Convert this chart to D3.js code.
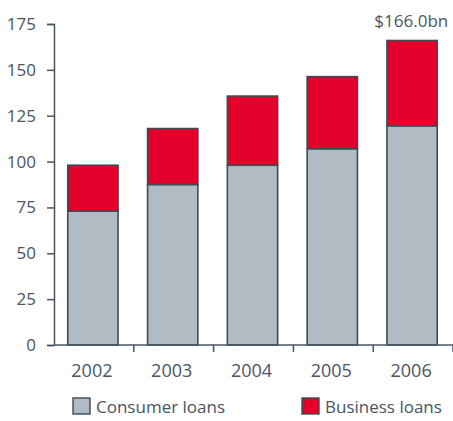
<!DOCTYPE html>
<html>
<head>
<meta charset="utf-8">
<script src="https://cdn.jsdelivr.net/npm/d3@7"></script>
<style>
  html, body { margin: 0; padding: 0; background: #fff; }
  text { font-family: "Open Sans", sans-serif; fill: #4a5561; }
</style>
</head>
<body>
<svg id="chart" width="453" height="421"></svg>
<script>
// Loans by year, $bn
const years = ["2002", "2003", "2004", "2005", "2006"];
const consumerLoans = [73, 87.5, 98, 107, 119.5];
const businessLoans = [25, 30.5, 37.7, 39.3, 46.5];
const yTicks = [0, 25, 50, 75, 100, 125, 150, 175];
const seriesNames = ["Consumer loans", "Business loans"];
const totalLabel = "$166.0bn";

const colors = { consumer: "#b1bbc4", business: "#e4002b", stroke: "#3e4a55", axis: "#4a5561" };

const svg = d3.select("#chart");
const margin = { left: 54, right: 0, top: 24, bottom: 76 };
const W = 453, H = 421;

const x = d3.scaleBand().domain(years).range([margin.left, W - margin.right]).paddingInner(0.37).paddingOuter(0.185);
const y = d3.scaleLinear().domain([0, 175]).range([H - margin.bottom, margin.top]);

const rows = years.map((yr, i) => ({ year: yr, consumer: consumerLoans[i], business: businessLoans[i] }));
const stack = d3.stack().keys(["consumer", "business"])(rows);

// Stacked bars
svg.append("g").selectAll("g").data(stack).join("g")
  .attr("fill", d => colors[d.key])
  .selectAll("rect").data(d => d).join("rect")
  .attr("x", d => x(d.data.year) - 1)
  .attr("width", x.bandwidth())
  .attr("y", d => y(d[1]))
  .attr("height", d => y(d[0]) - y(d[1]))
  .attr("stroke", colors.stroke)
  .attr("stroke-width", 1.6);

// Y axis
const yAxis = svg.append("g").attr("transform", `translate(${margin.left},0)`)
  .call(d3.axisLeft(y).tickValues(yTicks).tickSize(7).tickPadding(11));
yAxis.select(".domain").attr("stroke", colors.axis).attr("stroke-width", 1.5);
yAxis.selectAll(".tick line").attr("stroke", colors.axis).attr("stroke-width", 1.5);
yAxis.selectAll(".tick text").attr("font-size", 17).attr("font-family", null).style("fill", colors.axis);

// X axis with ticks between categories
const xAxisG = svg.append("g").attr("transform", `translate(0,${y(0)})`);
xAxisG.append("line").attr("x1", margin.left).attr("x2", W).attr("stroke", colors.axis).attr("stroke-width", 1.5);
const step = x.step();
const boundaries = years.map(yr => x(yr) + x.bandwidth() + (step - x.bandwidth()) / 2);
xAxisG.selectAll("line.sep").data(boundaries).join("line").attr("class", "sep")
  .attr("x1", d => d).attr("x2", d => d).attr("y1", 0).attr("y2", 7)
  .attr("stroke", colors.axis).attr("stroke-width", 1.5);
xAxisG.selectAll("text").data(years).join("text")
  .attr("x", d => x(d) + x.bandwidth() / 2 - 2)
  .attr("y", 32)
  .attr("text-anchor", "middle")
  .attr("font-size", 18)
  .text(d => d);

// Total label above the last bar
const last = years.length - 1;
svg.append("text")
  .attr("x", x(years[last]) + x.bandwidth() + 10)
  .attr("y", y(consumerLoans[last] + businessLoans[last]) - 14)
  .attr("text-anchor", "end")
  .attr("font-size", 17)
  .text(totalLabel);

// Legend
const legendX = [73, 302];
const legend = svg.append("g").selectAll("g").data(seriesNames).join("g")
  .attr("transform", (d, i) => `translate(${legendX[i]},398)`);
legend.append("rect").attr("width", 17).attr("height", 16)
  .attr("fill", (d, i) => i === 0 ? colors.consumer : colors.business)
  .attr("stroke", colors.stroke).attr("stroke-width", 1.4);
legend.append("text").attr("x", 23).attr("y", 15).attr("font-size", 17).text(d => d);
</script>
</body>
</html>
